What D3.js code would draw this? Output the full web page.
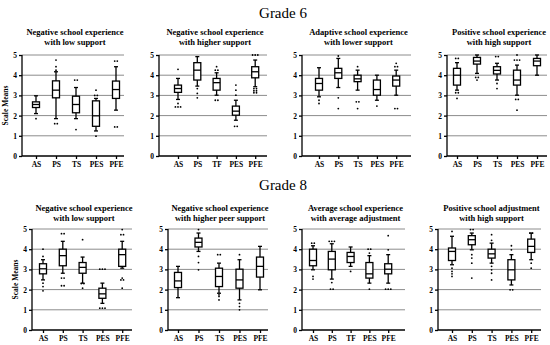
<!DOCTYPE html>
<html>
<head>
<meta charset="utf-8">
<script src="https://cdn.jsdelivr.net/npm/d3@7"></script>
<style>
  body { margin: 0; background: #fff; }
  svg { display: block; }
  .grid line { stroke: #8c8c8c; stroke-width: 1; }
  .axis path, .axis line { stroke: #000; stroke-width: 1.3; }
  .axis text, .ylab { font-family: "Liberation Serif", "Times New Roman", serif; font-weight: bold; font-size: 7.5px; fill: #000; }
  .ptitle { font-family: "Liberation Serif", "Times New Roman", serif; font-weight: bold; font-size: 8.5px; fill: #000; }
  .grade { font-family: "Liberation Serif", "Times New Roman", serif; font-size: 15px; fill: #000; }
</style>
</head>
<body>
<svg width="550" height="345"></svg>
<script>
// ---- data ----
var grades = ["Grade 6", "Grade 8"];
var yTicks = [0, 1, 2, 3, 4, 5];

var titles = [
  ["Negative school experience", "with low support"],
  ["Negative school experience", "with higher support"],
  ["Adaptive school experience", "with lower support"],
  ["Positive school experience", "with high support"],
  ["Negative school experience", "with low support"],
  ["Negative school experience", "with higher peer support"],
  ["Average school experience", "with average adjustment"],
  ["Positive school adjustment", "with high support"]
];

var cats = [
  ["AS", "PS", "TS", "PES", "PFE"],
  ["AS", "PS", "TF", "PES", "PFE"],
  ["AS", "PS", "TS", "PES", "PFE"],
  ["AS", "PS", "TS", "PES", "PFE"],
  ["AS", "PS", "TS", "PES", "PFE"],
  ["AS", "PS", "TS", "PES", "PFE"],
  ["AS", "PS", "TF", "PES", "PFE"],
  ["AS", "PS", "TS", "PES", "PFE"]
];

// [whisker low, q1, median, q3, whisker high]
var boxes = [
  [[2.10, 2.40, 2.55, 2.68, 2.98], [1.85, 2.88, 3.26, 3.72, 4.17], [1.85, 2.14, 2.55, 2.96, 3.39], [1.24, 1.47, 1.99, 2.73, 2.85], [2.27, 2.85, 3.29, 3.71, 4.42]],
  [[2.80, 3.15, 3.34, 3.51, 3.84], [3.46, 3.76, 4.25, 4.62, 4.92], [3.01, 3.26, 3.63, 3.84, 4.12], [1.77, 2.02, 2.22, 2.47, 2.76], [3.43, 3.87, 4.17, 4.42, 4.75]],
  [[2.93, 3.26, 3.59, 3.84, 4.37], [3.39, 3.84, 4.12, 4.34, 4.83], [3.26, 3.68, 3.82, 4.00, 4.25], [2.76, 3.01, 3.29, 3.76, 4.00], [3.01, 3.46, 3.76, 3.96, 4.25]],
  [[3.26, 3.51, 4.00, 4.34, 4.62], [4.09, 4.55, 4.70, 4.88, 5.00], [3.76, 4.06, 4.24, 4.42, 4.59], [3.01, 3.51, 3.76, 4.25, 4.50], [4.00, 4.47, 4.70, 4.83, 5.00]],
  [[2.48, 2.78, 3.03, 3.28, 3.48], [2.81, 3.18, 3.68, 4.00, 4.39], [2.32, 2.81, 3.10, 3.34, 3.61], [1.32, 1.57, 1.79, 2.07, 2.32], [3.06, 3.15, 3.73, 4.00, 4.39]],
  [[1.60, 2.10, 2.43, 2.85, 3.15], [3.89, 4.11, 4.34, 4.55, 4.80], [1.82, 2.15, 2.65, 3.06, 3.31], [1.49, 2.07, 2.48, 3.01, 3.48], [1.99, 2.62, 3.15, 3.61, 4.14]],
  [[2.98, 3.18, 3.44, 4.00, 4.17], [2.52, 2.98, 3.51, 3.89, 4.27], [3.15, 3.34, 3.64, 3.84, 4.11], [2.32, 2.57, 2.78, 3.34, 3.68], [2.32, 2.78, 3.01, 3.28, 3.73]],
  [[3.23, 3.44, 3.89, 4.06, 4.64], [3.97, 4.22, 4.47, 4.67, 4.80], [3.31, 3.56, 3.77, 4.00, 4.30], [2.23, 2.48, 2.98, 3.48, 3.73], [3.48, 3.84, 4.14, 4.50, 4.80]]
];

// outlier dots: [category index, value, count side by side]
var outliers = [
  [[0, 1.85, 1], [1, 4.75, 1], [1, 4.42, 1], [1, 4.25, 1], [1, 1.60, 2], [2, 3.76, 2], [2, 1.31, 1], [3, 3.26, 1], [3, 3.00, 2], [3, 0.98, 1], [4, 4.70, 2], [4, 1.44, 2]],
  [[0, 4.29, 1], [0, 2.60, 1], [0, 2.43, 3], [1, 3.34, 1], [1, 3.10, 1], [1, 2.88, 1], [2, 4.42, 1], [2, 4.25, 2], [2, 2.76, 2], [3, 3.51, 1], [3, 3.26, 1], [3, 3.01, 1], [3, 1.47, 2], [4, 5.00, 3], [4, 3.34, 2], [4, 3.23, 2], [4, 3.13, 2]],
  [[0, 2.76, 1], [0, 2.60, 1], [1, 4.95, 1], [1, 2.88, 1], [1, 2.35, 1], [2, 4.42, 1], [2, 2.68, 2], [2, 2.35, 1], [3, 2.47, 1], [4, 4.59, 1], [4, 4.42, 2], [4, 2.35, 2]],
  [[0, 4.83, 2], [0, 3.13, 2], [0, 2.85, 1], [1, 3.89, 2], [1, 3.76, 1], [2, 4.92, 2], [2, 3.59, 1], [2, 3.34, 1], [3, 5.00, 1], [3, 4.75, 3], [3, 2.80, 2], [3, 2.27, 1]],
  [[0, 4.00, 1], [0, 3.64, 1], [0, 2.32, 1], [0, 2.15, 1], [0, 1.94, 1], [1, 4.77, 2], [1, 2.57, 2], [1, 2.19, 2], [2, 4.47, 1], [2, 2.30, 2], [2, 2.07, 1], [3, 3.01, 3], [3, 1.08, 3], [4, 4.97, 1], [4, 4.72, 2], [4, 2.57, 1], [4, 2.48, 2], [4, 2.07, 1]],
  [[1, 4.97, 1], [1, 3.64, 1], [1, 3.34, 1], [1, 2.98, 1], [2, 3.73, 2], [2, 1.74, 1], [2, 1.66, 1], [2, 1.49, 1], [3, 3.73, 1], [3, 1.32, 1], [3, 1.16, 1], [3, 1.00, 1]],
  [[0, 4.30, 2], [0, 2.65, 1], [0, 2.52, 1], [1, 4.39, 3], [1, 2.35, 1], [1, 2.02, 2], [2, 2.90, 1], [3, 4.00, 2], [3, 3.81, 1], [3, 2.02, 1], [4, 4.67, 1], [4, 3.97, 1], [4, 2.02, 3]],
  [[0, 4.88, 1], [0, 3.06, 1], [0, 2.90, 1], [0, 2.78, 1], [0, 2.65, 1], [1, 4.97, 2], [1, 3.73, 1], [1, 3.56, 1], [1, 3.31, 1], [1, 2.57, 1], [2, 4.72, 1], [2, 4.44, 1], [2, 3.15, 1], [2, 2.98, 1], [2, 2.81, 1], [2, 2.48, 1], [3, 4.17, 1], [3, 3.97, 1], [3, 1.99, 2], [4, 4.80, 2], [4, 3.31, 1], [4, 3.06, 1]]
];

// ---- layout ----
var svg = d3.select("svg");
var rows = [
  { top: 55, bottom: 156, gradeY: 18, titleY: 35 },
  { top: 229, bottom: 330, gradeY: 190, titleY: 211 }
];
// axis x, first category x, category step, right end of grid
var panels = [
  { ax: 22, first: 36, step: 20, right: 124 },
  { ax: 159, first: 178, step: 19.3, right: 267 },
  { ax: 302, first: 319, step: 19.3, right: 411 },
  { ax: 447, first: 457, step: 20, right: 547 },
  { ax: 32, first: 43, step: 19.8, right: 132 },
  { ax: 168, first: 178, step: 20.5, right: 268 },
  { ax: 302, first: 313, step: 18.8, right: 405 },
  { ax: 438, first: 452, step: 19.8, right: 541 }
];

grades.forEach((gr, r) => {
  svg.append("text")
    .attr("class", "grade")
    .attr("x", 283)
    .attr("y", rows[r].gradeY)
    .attr("text-anchor", "middle")
    .text(gr);
});

panels.forEach((p, i) => {
  var row = rows[Math.floor(i / 4)];
  var c = cats[i];
  var x = d3.scalePoint()
    .domain(c)
    .range([p.first, p.first + p.step * (c.length - 1)]);
  var y = d3.scaleLinear().domain([0, 5]).range([row.bottom, row.top]);

  var g = svg.append("g");

  // title
  var tx = (p.ax + p.right) / 2 + 2;
  titles[i].forEach((t, k) => {
    g.append("text")
      .attr("class", "ptitle")
      .attr("x", tx)
      .attr("y", row.titleY + k * 10)
      .attr("text-anchor", "middle")
      .text(t);
  });

  // grid lines
  g.append("g").attr("class", "grid")
    .selectAll("line")
    .data(yTicks.filter(d => d > 0))
    .enter().append("line")
    .attr("x1", p.ax).attr("x2", p.right)
    .attr("y1", d => y(d)).attr("y2", d => y(d));

  // axes
  g.append("g").attr("class", "axis")
    .attr("transform", "translate(" + p.ax + ",0)")
    .call(d3.axisLeft(y).tickValues(yTicks).tickFormat(d3.format("d")).tickSize(3).tickPadding(2))
    .call(s => s.select(".domain").attr("d", "M0," + y(5) + "V" + y(0)));

  var xa = g.append("g").attr("class", "axis")
    .attr("transform", "translate(0," + row.bottom + ")")
    .call(d3.axisBottom(x).tickSize(3).tickPadding(3));
  xa.select(".domain").attr("d", "M" + p.ax + ",0H" + p.right);

  if (i % 4 == 0) {
    g.append("text")
      .attr("class", "ylab")
      .attr("transform", "translate(" + (p.ax - 14) + "," + ((row.top + row.bottom) / 2) + ") rotate(-90)")
      .attr("text-anchor", "middle")
      .text("Scale Means");
  }

  // boxes
  var bw = 7, cap = 4;
  boxes[i].forEach((b, j) => {
    var cx = x(c[j]);
    var bg = g.append("g").attr("stroke", "#000").attr("stroke-width", 1.3).attr("fill", "#fff");
    bg.append("line").attr("x1", cx).attr("x2", cx).attr("y1", y(b[0])).attr("y2", y(b[4]));
    bg.append("line").attr("x1", cx - cap / 2).attr("x2", cx + cap / 2).attr("y1", y(b[0])).attr("y2", y(b[0]));
    bg.append("line").attr("x1", cx - cap / 2).attr("x2", cx + cap / 2).attr("y1", y(b[4])).attr("y2", y(b[4]));
    bg.append("rect")
      .attr("x", cx - bw / 2).attr("width", bw)
      .attr("y", y(b[3])).attr("height", y(b[1]) - y(b[3]));
    bg.append("line").attr("x1", cx - bw / 2).attr("x2", cx + bw / 2).attr("y1", y(b[2])).attr("y2", y(b[2]));
  });

  // outlier dots
  var dots = [];
  outliers[i].forEach(o => {
    for (var k = 0; k < o[2]; k++) {
      dots.push({ x: x(c[o[0]]) + (k - (o[2] - 1) / 2) * 2.6, y: y(o[1]) });
    }
  });
  g.selectAll(".dot")
    .data(dots)
    .enter().append("circle")
    .attr("class", "dot")
    .attr("cx", d => d.x).attr("cy", d => d.y)
    .attr("r", 0.9)
    .attr("fill", "#000");
});
</script>
</body>
</html>
